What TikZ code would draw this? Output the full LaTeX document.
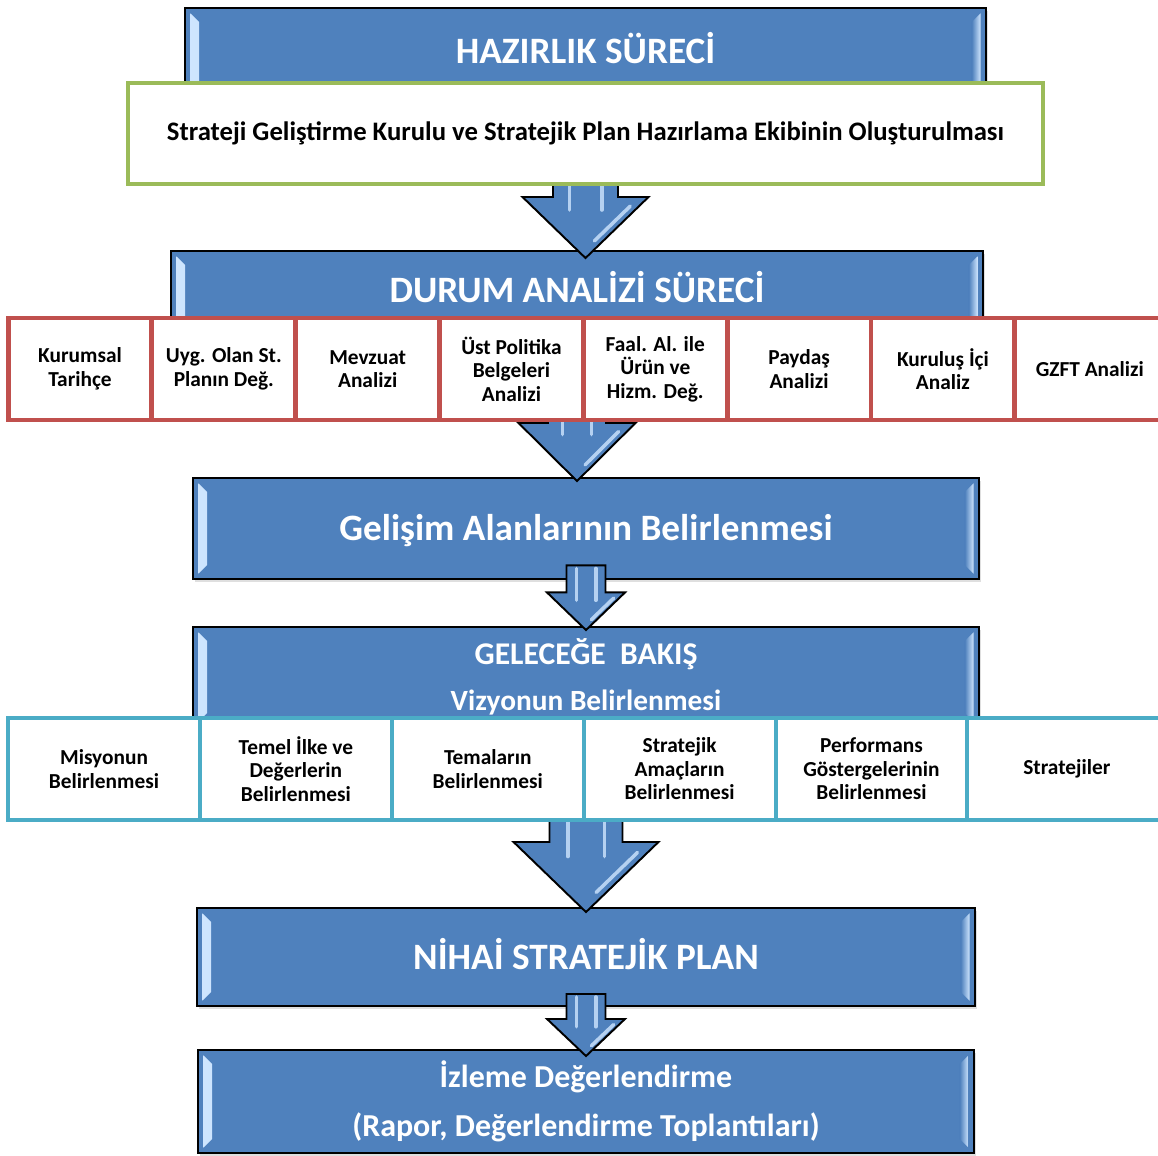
\documentclass[tikz,border=0pt]{standalone}
\usepackage{fontspec}
\setmainfont{Carlito}
\usetikzlibrary{positioning,calc,shadows}
\definecolor{stageblue}{HTML}{4F81BD}
\definecolor{stagelight}{HTML}{CFE6FF}
\definecolor{planred}{HTML}{C0504D}
\definecolor{plangreen}{HTML}{9BBB59}
\definecolor{plancyan}{HTML}{4BACC6}

\newcommand{\flowarrow}[7]{%
  \coordinate (fa-hr) at ($(#1.south)+(#4,#6)$);
  \coordinate (fa-tip) at ($(#1.south |- #2.north)+(0,#7)$);
  \draw[flow] ($(#1.south)+(-#3,#5)$) -- ($(#1.south)+(-#3,#6)$) -- ($(#1.south)+(-#4,#6)$)
    -- (fa-tip) -- (fa-hr) -- ($(#1.south)+(#3,#6)$) -- ($(#1.south)+(#3,#5)$) -- cycle;
  \draw[shine] ($(#1.south)+(-#3*0.5,#5+3)$) -- ($(#1.south)+(-#3*0.5,#6+#3*0.4)$);
  \draw[shine] ($(#1.south)+(#3*0.5,#5+3)$) -- ($(#1.south)+(#3*0.5,#6+#3*0.4)$);
  \draw[shine] ($(fa-hr)!0.15!(fa-tip)+(-#4*0.14,0)$) -- ($(fa-hr)!0.72!(fa-tip)+(-#4*0.14,0)$);
}

\begin{document}
\begin{tikzpicture}[
  x=0.02cm, y=-0.02cm,
  stage/.style={rectangle, draw=black, line width=1.1pt, fill=stageblue, text=white,
    align=center, font=\fontsize{21.2}{25}\selectfont\bfseries,
    drop shadow={shadow xshift=1pt, shadow yshift=-1.5pt, opacity=0.25},
    path picture={
      \shade[left color=stagelight, right color=stageblue]
        ([xshift=3pt,yshift=-3pt]path picture bounding box.north west) --
        ([xshift=8pt,yshift=-8pt]path picture bounding box.north west) --
        ([xshift=8pt,yshift=8pt]path picture bounding box.south west) --
        ([xshift=3pt,yshift=3pt]path picture bounding box.south west) -- cycle;
      \shade[right color=stagelight, left color=stageblue]
        ([xshift=-3pt,yshift=-3pt]path picture bounding box.north east) --
        ([xshift=-8pt,yshift=-8pt]path picture bounding box.north east) --
        ([xshift=-8pt,yshift=8pt]path picture bounding box.south east) --
        ([xshift=-3pt,yshift=3pt]path picture bounding box.south east) -- cycle;
    }},
  oneline/.style={text height=15pt, text depth=1.35pt},
  framebox/.style={rectangle, draw=plangreen, line width=2.3pt, fill=white,
    minimum width=18.3cm, minimum height=2.02cm, font=\fontsize{15.2}{18}\selectfont\bfseries},
  redcell/.style={rectangle, draw=planred, line width=2.8pt, fill=white, align=center,
    minimum width=2.877cm, minimum height=2.04cm, inner sep=1pt, node distance=2.877cm,
    font=\fontsize{12.15}{13.4}\selectfont\bfseries},
  bluecell/.style={rectangle, draw=plancyan, line width=2.3pt, fill=white, align=center,
    minimum width=3.838cm, minimum height=2.04cm, inner sep=1pt, node distance=3.838cm,
    font=\fontsize{12.15}{13.4}\selectfont\bfseries},
  flow/.style={draw=black, line width=1.1pt, fill=stageblue, line join=miter},
  shine/.style={draw=stagelight, line width=2pt, opacity=0.8, line cap=round}
]
\useasboundingbox (0,0) rectangle (1158,1155);

\node[stage, oneline, minimum width=16.02cm, minimum height=1.76cm] (hazirlik) at (585.5,52) {HAZIRLIK SÜRECİ};
\node[stage, oneline, minimum width=16.24cm, minimum height=1.6cm] (durum) at (577,291) {DURUM ANALİZİ SÜRECİ};
\node[stage, oneline, minimum width=15.72cm, minimum height=2.02cm] (gelisim) at (586,528.5) {Gelişim Alanlarının Belirlenmesi};
\node[stage, minimum width=15.72cm, minimum height=2cm, font=\fontsize{16.7}{26}\selectfont\bfseries] (gelecek) at (586,677) {{\fontsize{18}{26}\selectfont GELECEĞE~~BAKIŞ}\\Vizyonun Belirlenmesi};
\node[stage, oneline, minimum width=15.56cm, minimum height=1.96cm] (nihai) at (586,957) {NİHAİ STRATEJİK PLAN};
\node[stage, minimum width=15.52cm, minimum height=2.06cm, font=\fontsize{18.2}{28}\selectfont\bfseries] (izleme) at (586,1101.5) {İzleme Değerlendirme\\(Rapor, Değerlendirme Toplantıları)};

\node[framebox] (kurul) at (585.5,133.5) {};
\flowarrow{kurul}{durum}{32.5}{63}{-10}{11}{8}
\flowarrow{durum}{gelisim}{29}{58.5}{0}{91}{4}
\flowarrow{gelisim}{gelecek}{19.5}{39}{-14.5}{12.5}{4}
\flowarrow{gelecek}{nihai}{36.5}{72.5}{0}{114}{5}
\flowarrow{nihai}{izleme}{19.5}{39}{-13}{12}{7}
\node[framebox] at (kurul) {Strateji Geliştirme Kurulu ve Stratejik Plan Hazırlama Ekibinin Oluşturulması};

\node[redcell] (kurumsal) at (80,369) {Kurumsal\\Tarihçe};
\node[redcell, right of=kurumsal] (uyg) {Uyg. Olan St.\\Planın Değ.};
\node[redcell, right of=uyg] (mevzuat) {Mevzuat\\Analizi};
\node[redcell, right of=mevzuat] (politika) {Üst Politika\\Belgeleri\\Analizi};
\node[redcell, right of=politika] (faal) {Faal. Al. ile\\Ürün ve\\Hizm. Değ.};
\node[redcell, right of=faal] (paydas) {Paydaş\\Analizi};
\node[redcell, right of=paydas] (kurulus) {Kuruluş İçi\\Analiz};
\node[redcell, right of=kurulus, minimum width=3.0cm, xshift=0.0615cm] (gzft) {GZFT Analizi};

\node[bluecell] (misyon) at (104,769) {Misyonun\\Belirlenmesi};
\node[bluecell, right of=misyon] (ilke) {Temel İlke ve\\Değerlerin\\Belirlenmesi};
\node[bluecell, right of=ilke] (tema) {Temaların\\Belirlenmesi};
\node[bluecell, right of=tema] (amac) {Stratejik\\Amaçların\\Belirlenmesi};
\node[bluecell, right of=amac] (gosterge) {Performans\\Göstergelerinin\\Belirlenmesi};
\node[bluecell, right of=gosterge, minimum width=3.98cm, xshift=0.071cm] (strateji) {Stratejiler};
\end{tikzpicture}
\end{document}
